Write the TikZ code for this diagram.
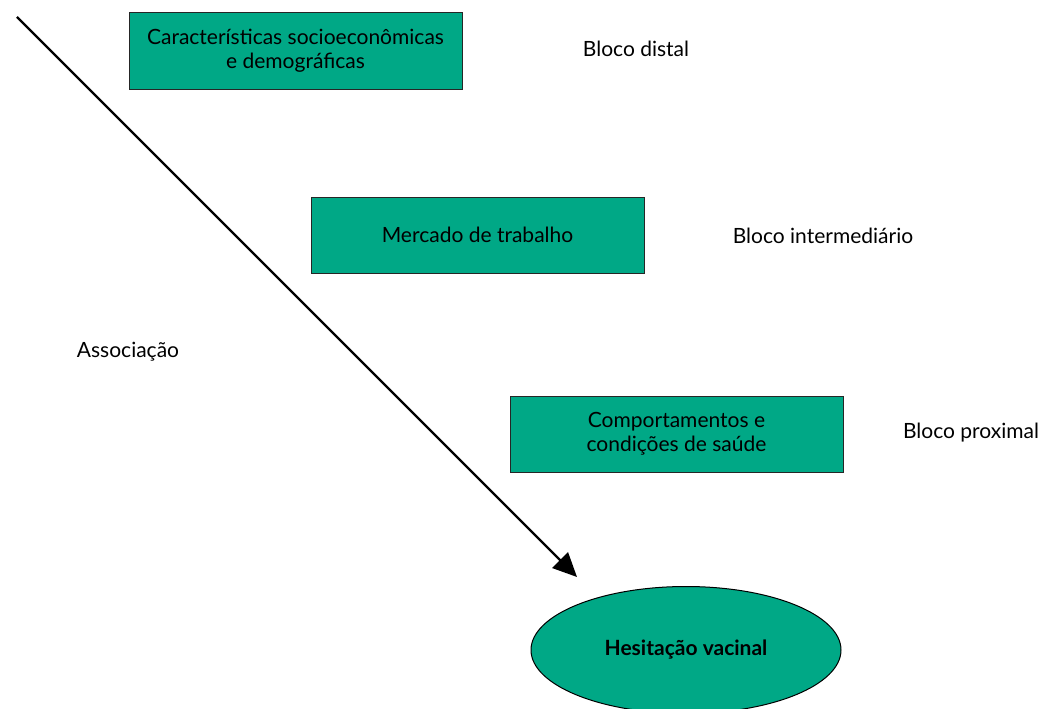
\documentclass[tikz,border=0pt]{standalone}
\usepackage{fontspec}
\setmainfont{Lato}
\usetikzlibrary{shapes.geometric,arrows.meta}
\definecolor{boxgreen}{RGB}{0,168,134}
\tikzset{
  blockbox/.style={draw=black!85, line width=1pt, fill=boxgreen, minimum width=333pt, minimum height=76pt, inner sep=0pt, align=center, font=\fontsize{21}{24}\selectfont},
  lbl/.style={font=\fontsize{21}{24}\selectfont, inner sep=0pt},
}
\begin{document}
\begin{tikzpicture}[x=1pt,y=-1pt]
\useasboundingbox (0,0) rectangle (1057,709);
\node[blockbox] (b1) at (295.5,51) {Características socioeconômicas\\e demográficas};
\node[blockbox] (b2) at (477.5,235) {Mercado de trabalho};
\node[blockbox] (b3) at (676.5,434) {Comportamentos e\\condições de saúde};
\node[draw=black, line width=1pt, fill=boxgreen, ellipse, minimum width=310pt, minimum height=127pt, inner sep=0pt, font=\fontsize{21}{24}\selectfont\bfseries] (hv) at (686,650) {Hesitação vacinal};
\node[lbl] (l1) at (636,49) {Bloco distal};
\node[lbl] (l2) at (823,236) {Bloco intermediário};
\node[lbl] (l3) at (971,433) {Bloco proximal};
\node[lbl] (as) at (128,352) {Associação};
\coordinate (s) at (17,17);
\coordinate (t) at (577,577);
\draw[line width=2.2pt, -{Triangle[length=24pt,width=22pt]}] (s) -- (t);
\end{tikzpicture}
\end{document}
